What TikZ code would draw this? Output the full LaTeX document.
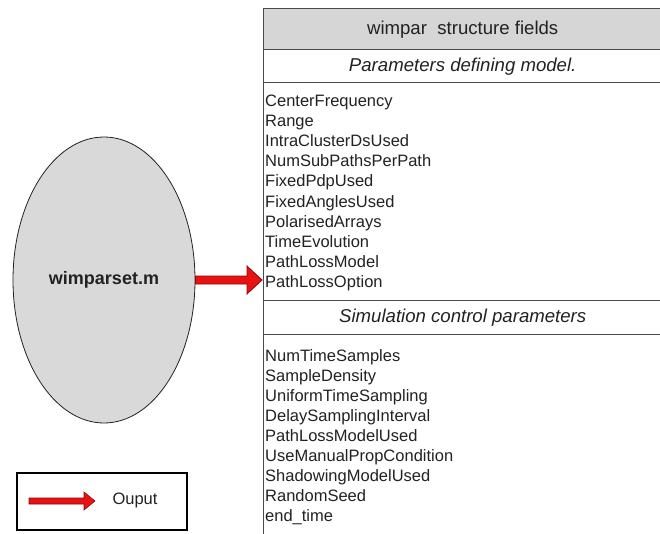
\documentclass[tikz,border=0pt]{standalone}
\usepackage{fontspec}
\setmainfont{Liberation Sans}
\usetikzlibrary{shapes.geometric}
\definecolor{cellgray}{HTML}{D6D6D6}
\definecolor{blobgray}{HTML}{D9D9D9}
\definecolor{linegray}{HTML}{4A4A4A}
\definecolor{arrowred}{HTML}{E81212}
\definecolor{arrowdark}{HTML}{8A0A0A}
\definecolor{inkgray}{HTML}{222222}
\tikzset{
  txt/.style={font=\fontsize{16.5}{20}\selectfont, text=inkgray, inner sep=0pt},
  row/.style={txt, font=\fontsize{18.6}{22}\selectfont, draw=linegray,
    line width=1.4pt, anchor=north west, minimum width=398pt, inner sep=0pt},
  item/.style={txt, anchor=base west},
  redarrow/.style={draw=arrowdark, fill=arrowred, line width=0.8pt, line join=miter},
}
\begin{document}
\begin{tikzpicture}[x=1pt, y=-1pt]
\useasboundingbox (0,0) rectangle (660,533);
\fill[white] (0,0) rectangle (660,533);

% field table (runs past the right and bottom edges)
\node[row, fill=cellgray, minimum height=41pt] (hdr) at (263,8) {wimpar\ \ structure fields};
\node[row, minimum height=33pt] (sec1) at (263,49) {\itshape Parameters defining model.};
\node[row, minimum height=218pt] (list1) at (263,82) {};
\node[row, minimum height=34pt] (sec2) at (263,300) {\itshape Simulation control parameters};
\node[row, minimum height=230pt] (list2) at (263,334) {};

\foreach \t [count=\i] in {CenterFrequency, Range, IntraClusterDsUsed,
    NumSubPathsPerPath, FixedPdpUsed, FixedAnglesUsed, PolarisedArrays,
    TimeEvolution, PathLossModel, PathLossOption}
  \node[item] (fa\i) at (265,{106+(\i-1)*20.2}) {\t};

\foreach \t [count=\i] in {NumTimeSamples, SampleDensity, UniformTimeSampling,
    DelaySamplingInterval, PathLossModelUsed, UseManualPropCondition,
    ShadowingModelUsed, RandomSeed, end\_time}
  \node[item] (fb\i) at (265,{361+(\i-1)*20}) {\t};

% the m-file
\node[ellipse, draw=inkgray, line width=0.8pt, fill=blobgray,
      minimum width=182pt, minimum height=286pt, inner sep=0pt,
      txt, font=\fontsize{18}{20}\selectfont\bfseries] (mfile) at (104,280) {wimparset.m};

% output arrow into the table
\coordinate (tipA) at (mfile.east -| list1.west);
\draw[redarrow] ([yshift=4pt]mfile.east) -- ([xshift=-16pt,yshift=4pt]tipA)
  -- ([xshift=-16pt,yshift=14pt]tipA) -- ([xshift=-1pt]tipA)
  -- ([xshift=-16pt,yshift=-14pt]tipA) -- ([xshift=-16pt,yshift=-4pt]tipA)
  -- ([yshift=-4pt]mfile.east) -- cycle;

% legend
\node[draw=black, line width=1.5pt, minimum width=170pt, minimum height=57pt,
      inner sep=0pt] (legend) at (102,501.5) {};
\coordinate (lgA) at (29,501);
\coordinate (lgB) at (95,501);
\node[txt] (lgtxt) at (135,500) {Ouput};
\draw[redarrow, line width=0.6pt] ([yshift=3pt]lgA) -- ([xshift=-11pt,yshift=3pt]lgB)
  -- ([xshift=-11pt,yshift=9pt]lgB) -- (lgB)
  -- ([xshift=-11pt,yshift=-9pt]lgB) -- ([xshift=-11pt,yshift=-3pt]lgB)
  -- ([yshift=-3pt]lgA) -- cycle;
\end{tikzpicture}
\end{document}
